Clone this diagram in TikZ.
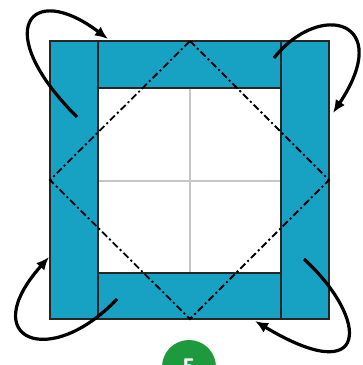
\documentclass[tikz,border=0pt]{standalone}
\usepackage{amsmath,amssymb}
\usepackage{tikz}
\usetikzlibrary{arrows.meta}
\definecolor{strip}{HTML}{17A1C2}
\definecolor{stepgreen}{HTML}{1E9A3E}

\begin{document}
\begin{tikzpicture}[x=1pt,y=-1pt,
  band/.style={fill=strip,draw=black!85,line width=1.5pt},
  fold/.style={line width=1.8pt,dash pattern=on 7pt off 3pt on 2pt off 3pt},
  turn/.style={line width=3.2pt,-{Latex[length=13pt,width=11pt]}}]
  \useasboundingbox (0,0) rectangle (363,365);
  \draw[gray!45,line width=1.5pt] (190,88)--(190,273) (98,181)--(281,181);
  \draw[band] (50,41) rectangle (98,319);
  \draw[band] (281,41) rectangle (329,319);
  \draw[band] (98,41) rectangle (281,88);
  \draw[band] (98,273) rectangle (281,319);
  \draw[fold] (190,41)--(329,180)--(190,319)--(50,180)--cycle;
  \draw[turn] (77,117) .. controls (-10,30) and (30,-20) .. (108,39);
  \draw[turn] (274,58) .. controls (320,0) and (395,20) .. (333,113);
  \draw[turn] (117,299) .. controls (50,370) and (-25,340) .. (49,257);
  \draw[turn] (304,259) .. controls (370,320) and (370,390) .. (255,321);
  \fill[stepgreen] (189,367) circle (27);
  \node[white,anchor=base,inner sep=0pt,font=\sffamily\bfseries\fontsize{24}{26}\selectfont] (num) at (189,375) {5};
\end{tikzpicture}
\end{document}
